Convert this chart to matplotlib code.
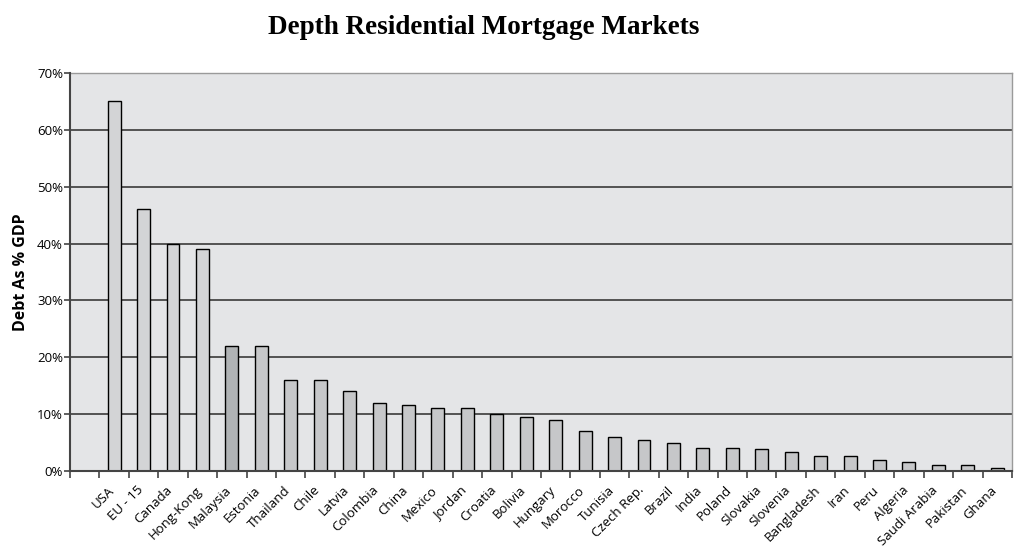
import numpy as np
import matplotlib
matplotlib.use("Agg")
import matplotlib.pyplot as plt
import matplotlib.transforms as mtransforms
from matplotlib.ticker import FixedLocator, PercentFormatter

# ── Data ──────────────────────────────────────────────────────────────────────
countries = [
    "USA", "EU - 15", "Canada", "Hong-Kong", "Malaysia", "Estonia", "Thailand",
    "Chile", "Latvia", "Colombia", "China", "Mexico", "Jordan", "Croatia",
    "Bolivia", "Hungary", "Morocco", "Tunisia", "Czech Rep.", "Brazil", "India",
    "Poland", "Slovakia", "Slovenia", "Bangladesh", "Iran", "Peru", "Algeria",
    "Saudi Arabia", "Pakistan", "Ghana",
]
debt_pct_gdp = [
    65, 46, 40, 39, 22, 22, 16, 16, 14, 12, 11.7, 11, 11, 10, 9.5, 9, 7,
    6, 5.5, 5, 4, 4, 3.8, 3.4, 2.6, 2.6, 2, 1.6, 1, 1, 0.6,
]
yticks = [0, 10, 20, 30, 40, 50, 60, 70]

# ── Style ─────────────────────────────────────────────────────────────────────
LIGHT = "#d3d4d6"
MID = "#c6c7c9"
DARK = "#b0b3b5"
colors = [LIGHT] * 4 + [DARK] + [MID] * (len(countries) - 5)

plt.rcParams["font.family"] = ["Open Sans", "DejaVu Sans"]

fig = plt.figure(figsize=(10.14, 5.5), dpi=100)
ax = fig.add_axes([0.069, 0.1436, 0.929, 0.7236])
ax.set_facecolor("#e4e5e7")

# Excel-style chart: first category slot is empty, bars start at slot 1
x = np.arange(1, len(countries) + 1)
ax.bar(x, debt_pct_gdp, width=0.44, color=colors, edgecolor="black",
       linewidth=1.0, zorder=3)

ax.set_xlim(-0.5, len(countries) + 0.5)
ax.set_ylim(0, 70)

# y axis
ax.set_yticks(yticks)
ax.yaxis.set_major_formatter(PercentFormatter(decimals=0))
ax.grid(axis="y", color="#3a3a3a", linewidth=1.2, zorder=1)
ax.tick_params(axis="y", direction="out", length=4, width=1.2,
               color="#444444", labelsize=9.5, pad=1)

# x axis: slot boundary ticks, labels under bars
ax.xaxis.set_minor_locator(FixedLocator(np.arange(-0.5, len(countries) + 1, 1.0)))
ax.tick_params(axis="x", which="minor", direction="out", length=5, width=1.2,
               color="#444444")
ax.set_xticks(x)
ax.set_xticklabels(countries, rotation=45, ha="right", rotation_mode="anchor",
                   fontsize=9.5)
ax.tick_params(axis="x", which="major", length=0, pad=9)
offset = mtransforms.ScaledTranslation(-7 / 100, 0, fig.dpi_scale_trans)
for lbl in ax.get_xticklabels():
    lbl.set_transform(lbl.get_transform() + offset)

for side in ("left", "bottom"):
    ax.spines[side].set_color("#444444")
    ax.spines[side].set_linewidth(1.5)
for side in ("top", "right"):
    ax.spines[side].set_color("#9a9a9a")
    ax.spines[side].set_linewidth(1.0)
ax.spines["left"].set_zorder(4)
ax.spines["bottom"].set_zorder(4)

ax.set_ylabel("Debt As % GDP", fontsize=11.5, fontweight="bold", labelpad=6)

fig.text(0.477, 0.95, "Depth Residential Mortgage Markets",
         ha="center", va="center", fontsize=19.5, fontweight="bold",
         family=["Liberation Serif", "DejaVu Serif"])

fig.savefig("out.png", dpi=100)
